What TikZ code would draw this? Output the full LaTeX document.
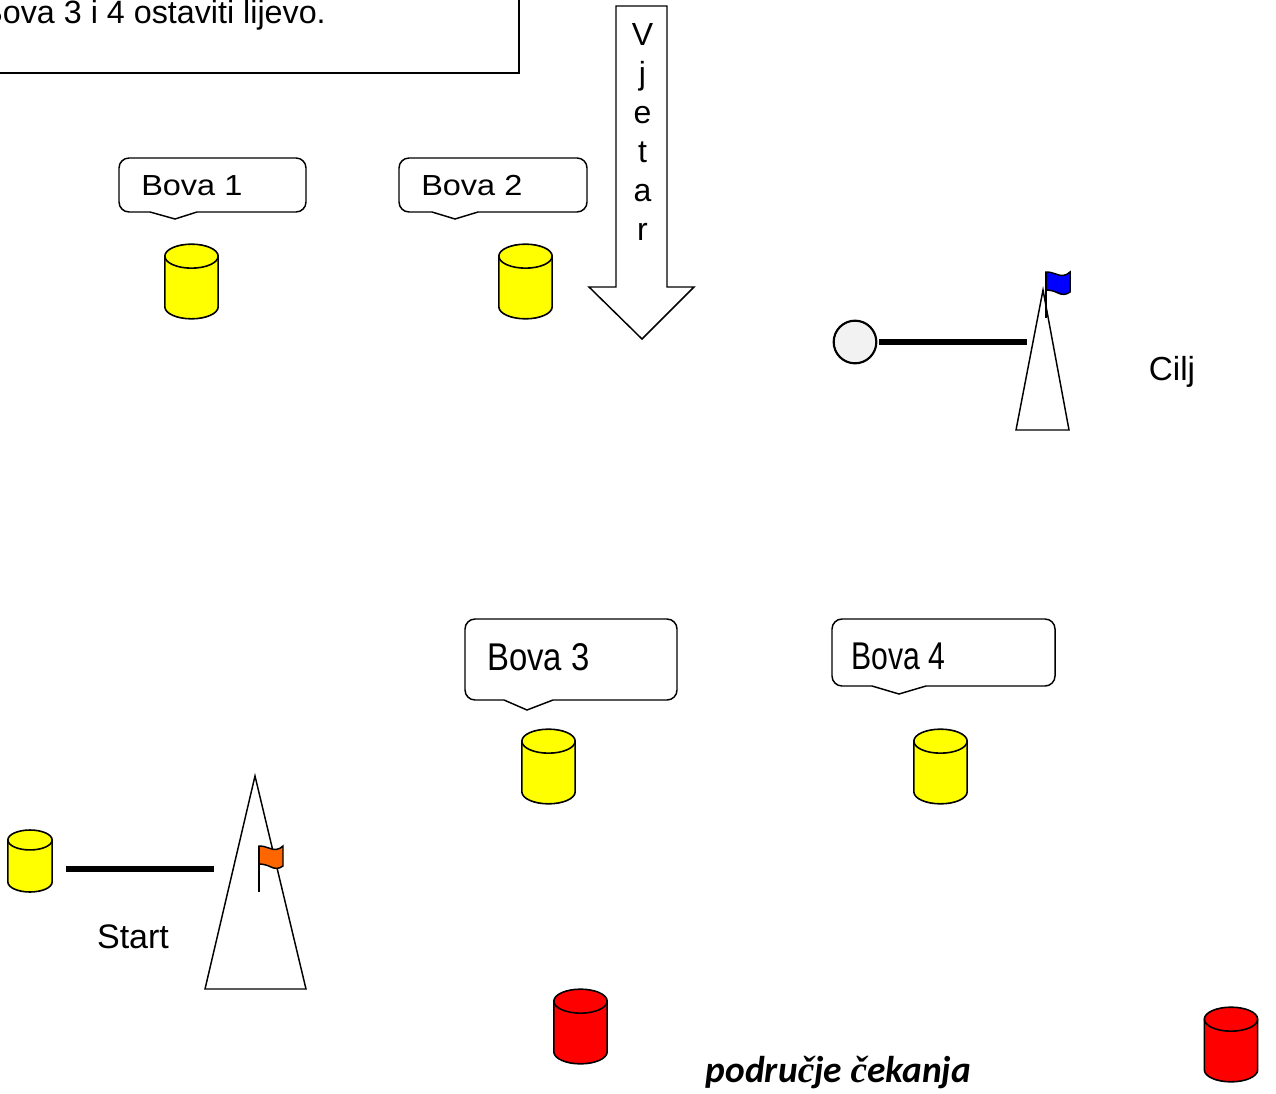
\documentclass[tikz,border=0pt]{standalone}
\usepackage{fontspec}
\usepackage{tikz}
\usetikzlibrary{shapes}
\usetikzlibrary{calc}
\setmainfont{Liberation Sans}
\newfontfamily\carlito{Carlito}
\newfontfamily\serifcaron{Liberation Serif}
\definecolor{buoygray}{HTML}{F2F2F2}
\definecolor{flagorange}{HTML}{FF6600}
\definecolor{buoyyellow}{HTML}{FFFF00}
\definecolor{buoyred}{HTML}{FF0000}
\definecolor{flagblue}{HTML}{0000FF}
\tikzset{
  outline/.style={draw=black,line width=1.1pt},
  startline/.style={draw=black,line width=4.5pt},
  bova/.pic={
    \begin{scope}[x=1pt,y=1pt]
      \draw[outline,line width=1.2pt,pic actions] (-20,19) -- (-20,-19) arc[start angle=180,end angle=360,x radius=20,y radius=9]
        -- (20,19) arc[start angle=0,end angle=180,x radius=20,y radius=9] -- cycle;
      \draw[outline,line width=1.2pt] (-20,19) arc[start angle=180,end angle=360,x radius=20,y radius=9];
    \end{scope}
  },
  zastavica/.pic={
    \draw[outline,pic actions] (0,0) .. controls (8,0) and (12,4) .. (17,3.5) .. controls (20,3) and (22,2) .. (24,0)
      -- (24,20) .. controls (20,23) and (16,23) .. (12,21) .. controls (8,19) and (4,18) .. (0,18) -- cycle;
    \draw[outline] (0,0) -- (0,46);
  }
}
\newcommand{\bovacallout}[8]{
  \draw[outline,fill=white] (#6,#7) -- (#8,#4) [rounded corners=7.5pt] -- (#3,#4) -- (#3,#2) -- (#1,#2)
    -- (#1,#4) [sharp corners] -- (#5,#4) -- cycle;
}
\begin{document}
\begin{tikzpicture}[x=0.75pt,y=-0.75pt]
  \clip (0,0) rectangle (1276,1094);
  % task box
  \draw[outline,line width=1.4pt] (-10,-10) rectangle (519,73);
  \node[anchor=base east,inner sep=0pt,font=\fontsize{24.2pt}{28pt}\selectfont] (task) at (326,24) {Bova 3 i 4 ostaviti lijevo.};
  % wind
  \draw[outline] (616,6) -- (667,6) -- (667,287) -- (694,287) -- (642,339) -- (589,287) -- (616,287) -- cycle;
  \node[align=center,inner sep=0pt,font=\fontsize{24pt}{29.25pt}\selectfont] (vjetar) at (642.5,132) {V\\j\\e\\t\\a\\r};
  % callouts
  \bovacallout{119}{158}{306}{212}{150}{175}{219}{197}
  \bovacallout{399}{158}{587}{212}{432}{455}{219}{478}
  \bovacallout{465}{619}{677}{700}{504}{527}{710}{553}
  \bovacallout{832}{619}{1055}{686}{872}{899}{694}{926}
  \begin{scope}[every node/.style={anchor=west,inner sep=0pt}]
    \node[font=\fontsize{21.75pt}{24pt}\selectfont] (label1) at (141,186) {\scalebox{1.12}[1]{Bova 1}};
    \node[font=\fontsize{21.75pt}{24pt}\selectfont] (label2) at (421,186) {\scalebox{1.12}[1]{Bova 2}};
    \node[font=\fontsize{29pt}{32pt}\selectfont] (label3) at (487,657) {\scalebox{0.85}[1]{Bova 3}};
    \node[font=\fontsize{29pt}{32pt}\selectfont] (label4) at (851,656) {\scalebox{0.78}[1]{Bova 4}};
  \end{scope}
  % buoys
  \pic[fill=buoyyellow] (b1) at (191.5,281.5) {bova};
  \pic[fill=buoyyellow] (b2) at (525.5,281.5) {bova};
  \pic[fill=buoyyellow] (b3) at (548.5,766.5) {bova};
  \pic[fill=buoyyellow] (b4) at (940.5,766.5) {bova};
  \pic[fill=buoyyellow,scale=0.83] (bstart) at (30,861) {bova};
  \pic[fill=buoyred] (w1) at (580.5,1026.5) {bova};
  \pic[fill=buoyred] (w2) at (1231,1044.5) {bova};
  % finish
  \node[circle,draw=black,line width=1.6pt,fill=buoygray,minimum size=32pt,inner sep=0pt,outer sep=2pt] (ciljbuoy) at (855,342) {};
  \coordinate (ciljmark) at (1027,342);
  \draw[startline] (ciljbuoy) -- (ciljmark);
  \draw[outline] (1043,290) -- (1069,430) -- (1016,430) -- cycle;
  \pic[fill=flagblue] (ciljflag) at (1046,272) {zastavica};
  \node[font=\fontsize{25pt}{28pt}\selectfont,inner sep=0pt] (cilj) at (1172,372) {Cilj};
  % start
  \coordinate (startleft) at (66,869);
  \coordinate (startmark) at (214,869);
  \draw[startline] (startleft) -- (startmark);
  \draw[outline] (255,776) -- (306,989) -- (205,989) -- cycle;
  \pic[fill=flagorange] (startflag) at (259,846) {zastavica};
  \node[font=\fontsize{25.5pt}{28pt}\selectfont,inner sep=0pt] (start) at (133,937) {Start};
  % waiting area
  \node[anchor=base,inner sep=0pt,font=\carlito\bfseries\itshape\fontsize{28pt}{32pt}\selectfont] (cekanje) at (838.5,1082) {podru{\serifcaron č}je {\serifcaron č}ekanja};
\end{tikzpicture}
\end{document}
